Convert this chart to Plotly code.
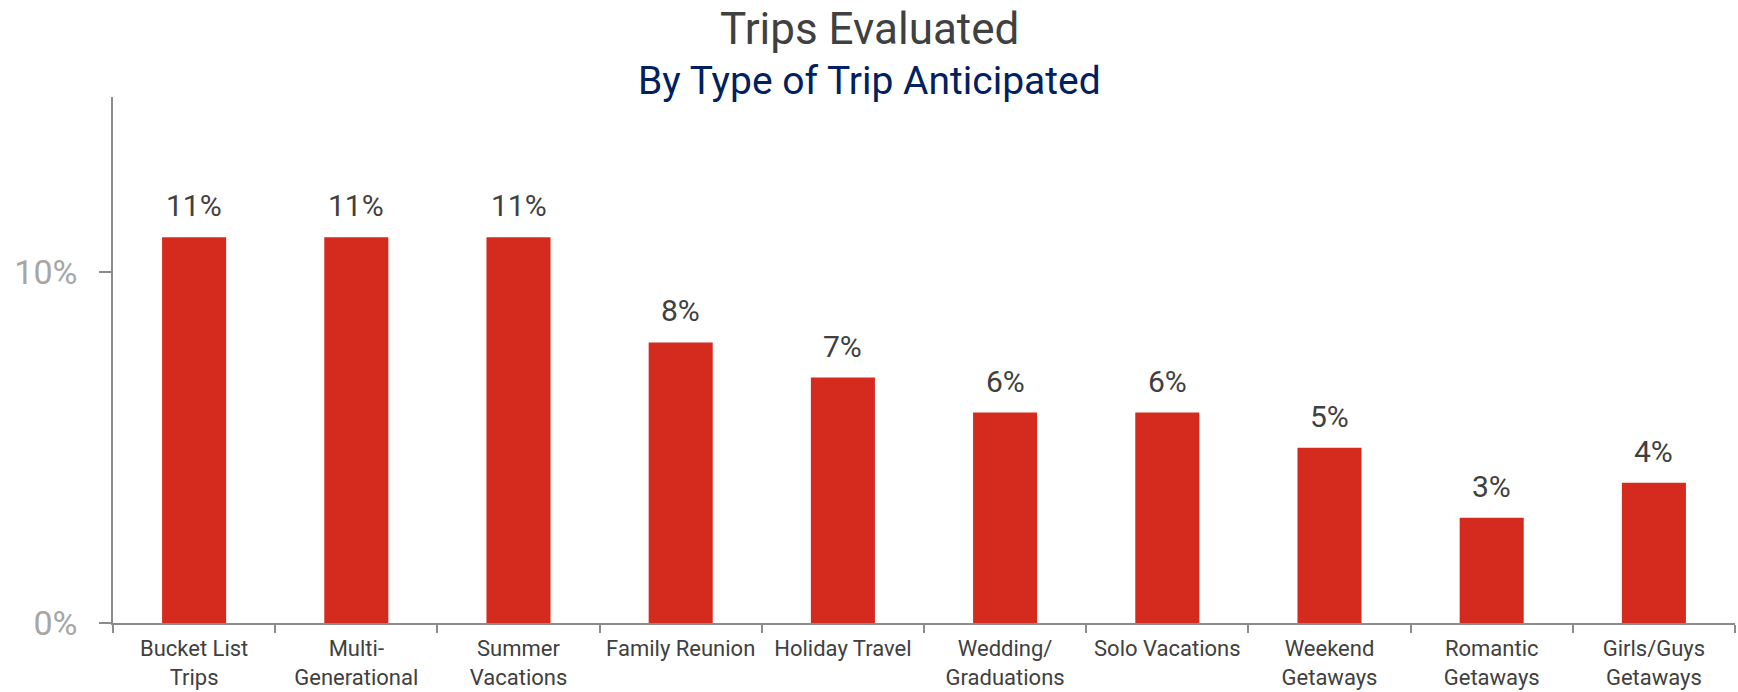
import plotly.graph_objects as go

# Share of trips evaluated, by type of trip anticipated (percent)
categories = [
    "Bucket List Trips", "Multi-Generational", "Summer Vacations", "Family Reunion",
    "Holiday Travel", "Wedding/Graduations", "Solo Vacations", "Weekend Getaways",
    "Romantic Getaways", "Girls/Guys Getaways",
]
tick_labels = [
    "Bucket List<br>Trips", "Multi-<br>Generational", "Summer<br>Vacations", "Family Reunion",
    "Holiday Travel", "Wedding/<br>Graduations", "Solo Vacations", "Weekend<br>Getaways",
    "Romantic<br>Getaways", "Girls/Guys<br>Getaways",
]
values = [11, 11, 11, 8, 7, 6, 6, 5, 3, 4]
y_ticks = [0, 10]
y_tick_labels = ["0%", "10%"]

FONT = "Roboto"
BAR_RED = "#D52B1E"
DARK = "#404040"
AXIS_GREY = "#8C8C8C"

W, H = 1738, 692
M_L, M_R, M_T, M_B = 113, 3, 97, 69
PLOT_H = H - M_T - M_B

fig = go.Figure(
    go.Bar(
        x=categories,
        y=values,
        marker=dict(color=BAR_RED, line=dict(width=0)),
        width=0.395,
        hoverinfo="skip",
    )
)

# Value labels above each bar
for c, v in zip(categories, values):
    fig.add_annotation(
        x=c, y=v, text=f"{v}%", showarrow=False,
        yanchor="bottom", yshift=12,
        font=dict(family=FONT, size=30, color=DARK),
    )

# Title and subtitle, centred on the page
page_center = ((W / 2) - M_L) / (W - M_L - M_R)
fig.add_annotation(
    xref="paper", yref="paper", x=page_center, y=1 + (M_T - 57) / PLOT_H,
    text="Trips Evaluated", showarrow=False, yanchor="bottom",
    font=dict(family=FONT, size=44, color=DARK),
)
fig.add_annotation(
    xref="paper", yref="paper", x=page_center, y=1 + (M_T - 106) / PLOT_H,
    text="By Type of Trip Anticipated", showarrow=False, yanchor="bottom",
    font=dict(family=FONT, size=39, color="#002060"),
)

fig.update_layout(
    width=W, height=H,
    margin=dict(l=M_L, r=M_R, t=M_T, b=M_B, pad=0, autoexpand=False),
    paper_bgcolor="white", plot_bgcolor="white",
    showlegend=False,
    bargap=0.6,
)
fig.update_xaxes(
    type="category", automargin=False,
    tickvals=categories, ticktext=tick_labels,
    tickson="boundaries", ticks="outside", ticklen=8, tickwidth=1.5, tickcolor=AXIS_GREY,
    showline=True, linecolor=AXIS_GREY, linewidth=1.5,
    showgrid=False, zeroline=False,
    tickfont=dict(family=FONT, size=22, color=DARK),
    ticklabelstandoff=5,
)
fig.update_yaxes(
    range=[0, 15], automargin=False,
    tickvals=y_ticks, ticktext=y_tick_labels,
    ticks="outside", ticklen=12, tickwidth=1.5, tickcolor=AXIS_GREY,
    showline=True, linecolor=AXIS_GREY, linewidth=1.5,
    showgrid=False, zeroline=False,
    tickfont=dict(family=FONT, size=34, color="#A6A6A6"),
    ticklabelstandoff=15,
)

fig.write_html("out.html")
